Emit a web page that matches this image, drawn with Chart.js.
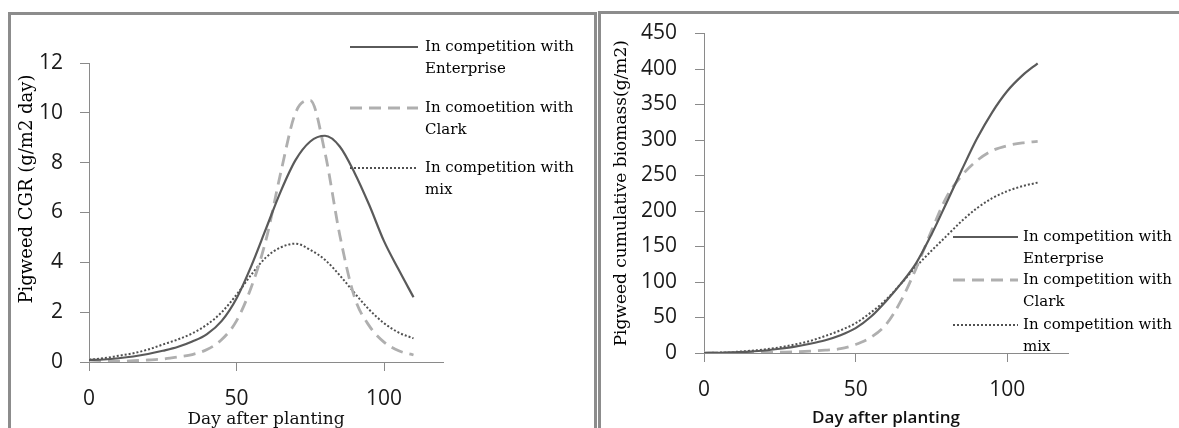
<!DOCTYPE html>
<html>
<head>
<meta charset="utf-8">
<script src="https://cdn.jsdelivr.net/npm/chart.js@4/dist/chart.umd.min.js"></script>
<style>
html, body { margin: 0; padding: 0; background: #fff; }
#wrap { position: relative; width: 1179px; height: 428px; overflow: hidden; }
canvas { position: absolute; left: 0; top: 0; }
.frame { position: absolute; background: #8c8c8c; }
</style>
</head>
<body>
<div id="wrap">
  <div class="frame" style="left:8px;top:12px;width:3px;height:416px"></div>
  <div class="frame" style="left:8px;top:12px;width:589px;height:3px"></div>
  <div class="frame" style="left:594px;top:12px;width:3px;height:416px"></div>
  <div class="frame" style="left:598px;top:11px;width:3px;height:417px"></div>
  <div class="frame" style="left:598px;top:11px;width:581px;height:3px"></div>
  <canvas id="cgrChart" width="1179" height="428"></canvas>
  <canvas id="bioChart" width="1179" height="428"></canvas>
</div>
<script>
// days after planting, shared by every series
const days = [0, 5, 10, 15, 20, 25, 30, 35, 40, 45, 50, 55, 60, 65, 70, 75, 80, 85, 90, 95, 100, 105, 110];

// pigweed crop growth rate (g/m2 day)
const cgrEnterprise = [0.08, 0.1, 0.15, 0.22, 0.32, 0.45, 0.6, 0.82, 1.12, 1.65, 2.55, 3.85, 5.35, 6.85, 8.1, 8.85, 9.08, 8.65, 7.6, 6.3, 4.85, 3.7, 2.6];
const cgrClark = [0.08, 0.05, 0.03, 0.05, 0.08, 0.12, 0.2, 0.3, 0.5, 0.9, 1.65, 3.0, 4.9, 7.6, 10.0, 10.5, 8.4, 5.1, 2.6, 1.45, 0.8, 0.45, 0.28];
const cgrMix = [0.1, 0.15, 0.25, 0.35, 0.5, 0.7, 0.9, 1.15, 1.5, 2.0, 2.7, 3.5, 4.2, 4.6, 4.75, 4.5, 4.1, 3.48, 2.77, 2.1, 1.56, 1.18, 0.95];

// pigweed cumulative biomass (g/m2)
const bioEnterprise = [0, 0.3, 1, 2, 3.5, 6, 9, 13, 18, 25, 35, 51, 73, 98, 127, 167, 212, 258, 302, 339, 369, 391, 408];
const bioClark = [0, 0.2, 0.4, 0.6, 0.8, 1.2, 1.6, 2.5, 4, 6, 12, 22, 40, 74, 120, 172, 220, 250, 271, 285, 292, 296, 298];
const bioMix = [0, 0.5, 1.5, 3, 5, 8, 12, 17, 24, 32, 42, 57, 75, 98, 122, 144, 165, 186, 204, 218, 228, 235, 240];

// legend texts (left one keeps the original spelling)
const cgrLabels = ['In competition with\nEnterprise', 'In comoetition with\nClark', 'In competition with\nmix'];
const bioLabels = ['In competition with\nEnterprise', 'In competition with\nClark', 'In competition with\nmix'];

const toPoints = (vals) => vals.map((v, i) => ({ x: days[i], y: v }));

const lineStyles = [
    { borderColor: '#5a5a5a', borderWidth: 2.2, borderDash: [] },
    { borderColor: '#afafaf', borderWidth: 2.8, borderDash: [12, 7] },
    { borderColor: '#505050', borderWidth: 2, borderDash: [2, 2] }
];

const makeDatasets = (labels, seriesList) => seriesList.map((vals, i) => ({
    label: labels[i],
    data: toPoints(vals),
    borderColor: lineStyles[i].borderColor,
    borderWidth: lineStyles[i].borderWidth,
    borderDash: lineStyles[i].borderDash,
    pointRadius: 0,
    fill: false,
    cubicInterpolationMode: 'monotone'
}));

// legend drawn beside the plot, two lines of text per entry
const sideLegend = {
    id: 'sideLegend',
    afterDraw(chart, args, opts) {
        const ctx = chart.ctx;
        ctx.save();
        ctx.font = opts.font;
        ctx.fillStyle = '#000';
        ctx.textBaseline = 'middle';
        ctx.textAlign = 'left';
        chart.data.datasets.forEach((ds, i) => {
            const y = opts.rows[i];
            ctx.save();
            ctx.strokeStyle = ds.borderColor;
            ctx.lineWidth = ds.borderWidth;
            ctx.setLineDash(ds.borderDash);
            ctx.beginPath();
            ctx.moveTo(opts.lineFrom, y);
            ctx.lineTo(opts.lineTo, y);
            ctx.stroke();
            ctx.restore();
            ds.label.split('\n').forEach((t, k) => ctx.fillText(t, opts.textX, y + k * opts.lineGap));
        });
        ctx.restore();
    }
};

// rotated y title placed freely (used on the left chart)
const freeTitle = {
    id: 'freeTitle',
    afterDraw(chart, args, opts) {
        if (!opts.text) return;
        const ctx = chart.ctx;
        ctx.save();
        ctx.font = opts.font;
        ctx.fillStyle = '#000';
        ctx.textAlign = 'center';
        ctx.textBaseline = 'middle';
        ctx.translate(opts.x, opts.y);
        ctx.rotate(-Math.PI / 2);
        ctx.fillText(opts.text, 0, 0);
        ctx.restore();
    }
};

const axisColor = '#8a8a8a';
const tickFont = { family: 'Open Sans', size: 21 };

const makeChart = (canvasId, datasets, cfg) => new Chart(document.getElementById(canvasId), {
    type: 'line',
    data: { datasets: datasets },
    plugins: [sideLegend, freeTitle],
    options: {
        responsive: false,
        animation: false,
        layout: { padding: cfg.padding },
        scales: {
            x: {
                type: 'linear',
                min: 0,
                max: 120,
                afterBuildTicks: (s) => { s.ticks = s.ticks.filter(t => t.value % 50 === 0); },
                afterFit: (s) => { s.height = cfg.xHeight; },
                ticks: { stepSize: 50, font: tickFont, color: '#1a1a1a', padding: 15, maxRotation: 0 },
                grid: { drawOnChartArea: false, tickLength: 9, color: axisColor },
                border: { color: axisColor, width: 1 },
                title: { display: true, text: 'Day after planting', font: cfg.xTitleFont, color: '#111', padding: { top: 0, bottom: cfg.xTitlePad } }
            },
            y: {
                min: 0,
                max: cfg.yMax,
                afterFit: (s) => { s.width = cfg.yWidth; },
                ticks: { stepSize: cfg.yStep, font: tickFont, color: '#1a1a1a', padding: cfg.yPad },
                grid: { drawOnChartArea: false, tickLength: 9, color: axisColor },
                border: { color: axisColor, width: 1 },
                title: cfg.yTitle
            }
        },
        plugins: {
            legend: { display: false },
            tooltip: { enabled: false },
            sideLegend: cfg.legend,
            freeTitle: cfg.freeTitle
        }
    }
});

makeChart('cgrChart', makeDatasets(cgrLabels, [cgrEnterprise, cgrClark, cgrMix]), {
    padding: { left: 0, top: 63, right: 736, bottom: 0 },
    xHeight: 66,
    yWidth: 89,
    yMax: 12,
    yStep: 2,
    yPad: 17,
    xTitleFont: { family: 'DejaVu Serif', size: 17 },
    xTitlePad: -2,
    yTitle: { display: false },
    freeTitle: { text: 'Pigweed CGR (g/m2 day)', font: '18px "DejaVu Serif"', x: 27, y: 189 },
    legend: { font: '15px "DejaVu Serif"', lineFrom: 350, lineTo: 418, textX: 425, rows: [47, 108, 168], lineGap: 22 }
});

makeChart('bioChart', makeDatasets(bioLabels, [bioEnterprise, bioClark, bioMix]), {
    padding: { left: 601, top: 33.5, right: 111, bottom: 0 },
    xHeight: 75,
    yWidth: 103,
    yMax: 450,
    yStep: 50,
    yPad: 18,
    xTitleFont: { family: 'Open Sans', size: 17, weight: '600' },
    xTitlePad: 0,
    yTitle: { display: true, text: 'Pigweed cumulative biomass(g/m2)', font: { family: 'DejaVu Serif', size: 17 }, color: '#000', padding: { top: 10, bottom: 0 } },
    freeTitle: {},
    legend: { font: '15px "DejaVu Serif"', lineFrom: 953, lineTo: 1018, textX: 1023, rows: [237, 280, 325], lineGap: 22 }
});
</script>
</body>
</html>
